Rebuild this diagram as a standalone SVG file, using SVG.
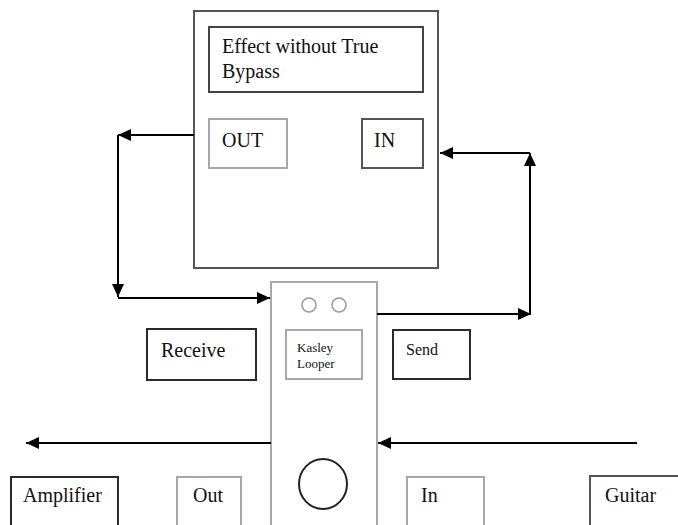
<svg xmlns="http://www.w3.org/2000/svg" width="678" height="525" viewBox="0 0 678 525">
<style>
.t{font-family:"Liberation Serif","Times New Roman",serif;fill:#111;}
.big{font-size:20px;}
.dark{fill:#fff;stroke:#2a2a2a;stroke-width:2;}
.light{fill:#fff;stroke:#a8a8a8;stroke-width:2;}
.mid{fill:#fff;stroke:#555;stroke-width:2;}
.wire{fill:none;stroke:#000;stroke-width:2;marker-end:url(#ah);}
</style>
<defs>
<marker id="ah" markerUnits="userSpaceOnUse" markerWidth="14" markerHeight="12" refX="13" refY="6" orient="auto">
<path d="M0,0 L13,6 L0,12 Z" fill="#000"/>
</marker>
</defs>
<rect width="678" height="525" fill="#fff"/>
<g id="effect">
<rect class="mid" x="194" y="11" width="244" height="257"/>
<rect class="dark" x="209" y="27" width="214" height="65" style="stroke:#444"/>
<text class="t big" x="222" y="53">Effect without True</text>
<text class="t big" x="222" y="78">Bypass</text>
</g>
<g id="effect-out">
<rect class="light" x="209" y="119" width="78" height="49"/>
<text class="t big" x="222" y="147">OUT</text>
</g>
<g id="effect-in">
<rect class="light" x="362" y="119" width="61" height="49" style="stroke:#555"/>
<text class="t big" x="374" y="147">IN</text>
</g>
<g id="looper">
<rect class="light" x="271" y="282" width="106" height="250"/>
<circle cx="309" cy="305" r="7" fill="none" stroke="#999" stroke-width="1.5"/>
<circle cx="339" cy="305" r="7" fill="none" stroke="#999" stroke-width="1.5"/>
<rect class="light" x="286" y="330" width="76" height="49"/>
<text class="t" font-size="13" x="297" y="352">Kasley</text>
<text class="t" font-size="13" x="297" y="368">Looper</text>
<ellipse cx="323" cy="484" rx="24" ry="25" fill="none" stroke="#222" stroke-width="2"/>
</g>
<g id="receive">
<rect class="dark" x="147" y="329" width="109" height="51"/>
<text class="t big" x="161" y="357">Receive</text>
</g>
<g id="send">
<rect class="dark" x="393" y="330" width="77" height="49"/>
<text class="t" font-size="16" x="406" y="355">Send</text>
</g>
<g id="amplifier">
<rect class="dark" x="11" y="477" width="107" height="60"/>
<text class="t big" x="23" y="502">Amplifier</text>
</g>
<g id="out">
<rect class="light" x="177" y="477" width="64" height="60"/>
<text class="t big" x="193" y="502">Out</text>
</g>
<g id="in">
<rect class="light" x="407" y="477" width="77" height="60"/>
<text class="t big" x="421" y="502">In</text>
</g>
<g id="guitar">
<rect class="mid" x="590" y="476" width="100" height="60"/>
<text class="t big" x="605" y="502">Guitar</text>
</g>
<g id="connectors">
<path class="wire" d="M194,135 L118,135"/>
<path class="wire" d="M118,135 L118,297"/>
<path class="wire" d="M118,298 L270,298"/>
<path class="wire" d="M377,314 L531,314"/>
<path class="wire" d="M530,314 L530,153"/>
<path class="wire" d="M530,153 L440,153"/>
<path class="wire" d="M271,443 L26,443"/>
<path class="wire" d="M637,443 L378,443"/>
</g>
</svg>
